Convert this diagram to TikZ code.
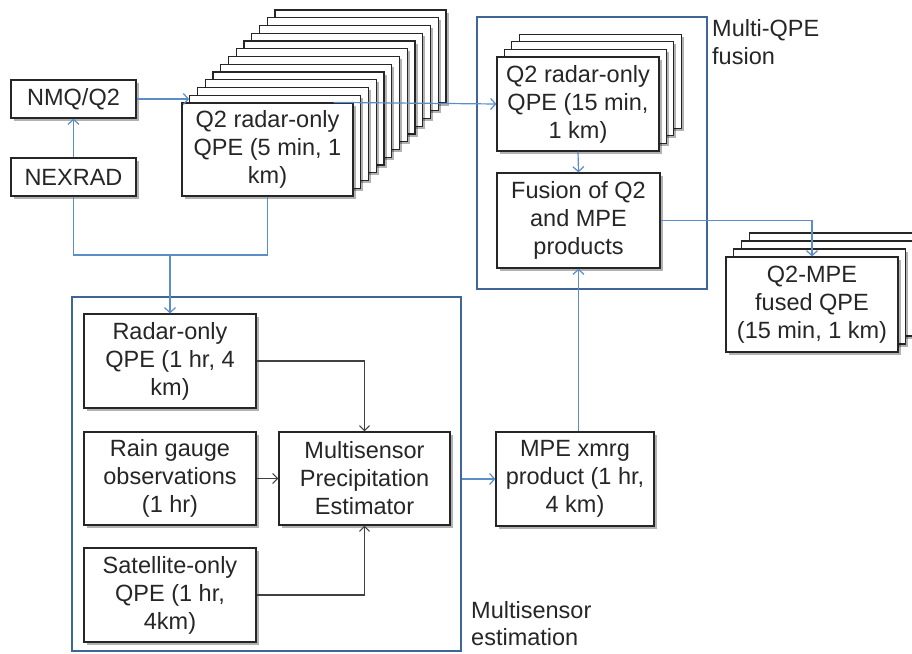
\documentclass[tikz,border=0pt]{standalone}
\usepackage{fontspec}
\setmainfont{Liberation Sans}
\usetikzlibrary{arrows.meta,shadows,calc}
\definecolor{conn}{HTML}{5B8DC9}
\definecolor{frm}{HTML}{3F6599}
\definecolor{ink}{HTML}{262626}
\definecolor{garr}{HTML}{404040}
\begin{document}
\begin{tikzpicture}[x=1pt,y=-1pt,
  txt/.style={font=\fontsize{23.5}{28}\selectfont, text=ink},
  box/.style={txt, draw=ink, line width=1.2pt, fill=white, inner sep=0pt, align=center,
    drop shadow={shadow xshift=2.5pt, shadow yshift=-2.5pt, opacity=0.3, fill=black}},
  frame/.style={draw=frm, line width=2.2pt, inner sep=0pt},
  lbl/.style={txt, inner sep=0pt, align=left, anchor=north west},
  bline/.style={draw=conn, line width=1.2pt},
  barrow/.style={bline, -{Straight Barb[length=5pt,width=11pt,line width=1.2pt]}},
  garrow/.style={draw=garr, line width=1.1pt, -{Straight Barb[length=5pt,width=10pt,line width=1.1pt]}}
]
\useasboundingbox (0,0) rectangle (912,653);

% frames
\node[frame, minimum width=230pt, minimum height=272pt] (mf) at (592,153) {};
\node[frame, minimum width=389pt, minimum height=354pt] (msf) at (266.5,474) {};
\node[lbl] (mflbl) at (712,19) {Multi-QPE\\fusion};
\node[lbl, font=\fontsize{23.5}{27}\selectfont] (mslbl) at (471,601) {Multisensor\\estimation};

% left boxes
\node[box, minimum width=125pt, minimum height=38pt] (nmq) at (73.5,99) {NMQ/Q2};
\node[box, minimum width=125pt, minimum height=38pt] (nexrad) at (73.5,177) {NEXRAD};

% Q2 5 min stack
\coordinate (q2c) at (267.5,149.5);
\foreach \i in {12,...,1}
  \node[box, minimum width=171pt, minimum height=93pt] (q2L\i) at ($(q2c)+(7.75*\i,-7.75*\i)$) {};
\node[box, minimum width=171pt, minimum height=93pt] (q2) at (q2c) {Q2 radar-only\\QPE (5 min, 1\\km)};

% Q2 15 min stack
\coordinate (q15c) at (578,104);
\foreach \i in {3,2,1}
  \node[box, minimum width=162pt, minimum height=94pt] (q15L\i) at ($(q15c)+(7.4*\i,-7.6*\i)$) {};
\node[box, minimum width=162pt, minimum height=94pt] (q15) at (q15c) {Q2 radar-only\\QPE (15 min,\\1 km)};

\node[box, minimum width=163pt, minimum height=95pt] (fusion) at (578.5,220.5) {Fusion of Q2\\and MPE\\products};

% fused stack
\coordinate (fc) at (812,304.5);
\foreach \i in {3,2,1}
  \node[box, minimum width=172pt, minimum height=95pt] (fL\i) at ($(fc)+(7.7*\i,-8*\i)$) {};
\node[box, minimum width=172pt, minimum height=95pt] (fused) at (fc) {Q2-MPE\\fused QPE\\(15 min, 1 km)};

% multisensor boxes
\node[box, minimum width=172pt, minimum height=94pt] (radar) at (170,361) {Radar-only\\QPE (1 hr, 4\\km)};
\node[box, minimum width=172pt, minimum height=93pt] (gauge) at (170,478.5) {Rain gauge\\observations\\(1 hr)};
\node[box, minimum width=172pt, minimum height=94pt] (sat) at (170,595) {Satellite-only\\QPE (1 hr,\\4km)};
\node[box, minimum width=171pt, minimum height=93pt] (mpe) at (364.5,478.5) {Multisensor\\Precipitation\\Estimator};
\node[box, minimum width=158pt, minimum height=94pt] (xmrg) at (575,479) {MPE xmrg\\product (1 hr,\\4 km)};

% connectors
\draw[barrow] (nexrad.north) -- (nmq.south);
\draw[barrow] (nmq.east) -- (nmq.east -| q2L1.west);
\draw[barrow] ($(q2.north east)+(-20,0)$) -- (q15.west);
\draw[barrow] (q15.south) -- (fusion.north);
\draw[barrow] (fusion.east) -| (fused.north);
\coordinate (jn) at (170,255);
\draw[bline] (nexrad.south) |- (jn);
\draw[bline] (q2.south) |- (jn);
\draw[barrow] (jn) -- (radar.north);
\draw[garrow] (radar.east) -| (mpe.north);
\draw[garrow] (gauge.east) -- (mpe.west);
\draw[garrow] (sat.east) -| (mpe.south);
\draw[barrow] (msf.east |- xmrg.west) -- (xmrg.west);
\draw[barrow] (xmrg.north -| fusion.south) -- (fusion.south);
\end{tikzpicture}
\end{document}
